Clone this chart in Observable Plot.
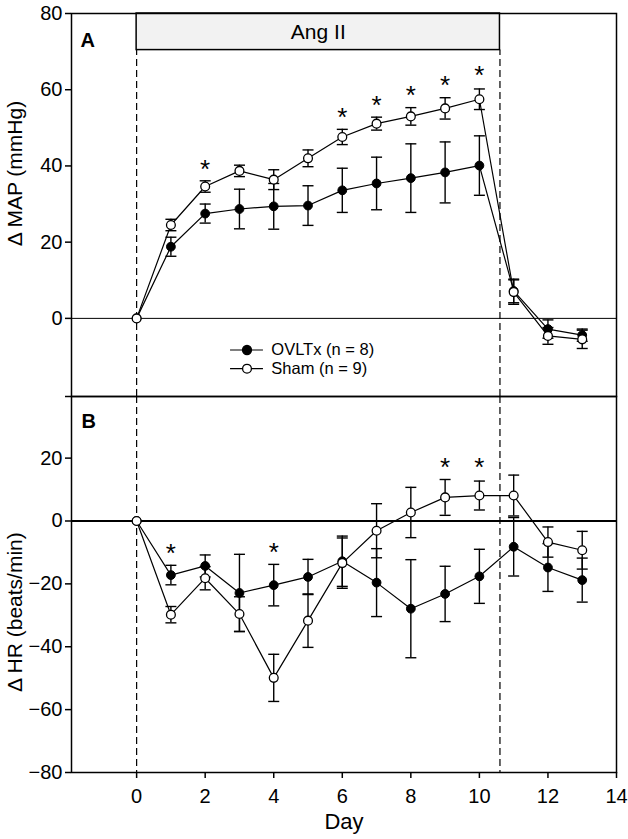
<!DOCTYPE html>
<html><head><meta charset="utf-8">
<script src="https://cdn.jsdelivr.net/npm/d3@7"></script>
<script src="https://cdn.jsdelivr.net/npm/@observablehq/plot@0.6"></script>
<style>
html,body{margin:0;padding:0;background:#fff;}
#chart svg{display:block;overflow:visible;}
</style></head><body><div id="chart"></div>
<script>
// ---- data ----
const days = [0,1,2,3,4,5,6,7,8,9,10,11,12,13];

const mapOVLTx   = [0, 18.8, 27.5, 28.7, 29.4, 29.6, 33.6, 35.4, 36.8, 38.3, 40.1, 7.2, -2.8, -4.4];
const mapOVLTxSE = [0, 2.5, 2.5, 5.2, 6.0, 5.2, 5.8, 6.9, 9.0, 8.0, 7.8, 3.1, 2.4, 1.6];
const mapSham    = [0, 24.5, 34.6, 38.7, 36.4, 42.0, 47.6, 51.1, 53.0, 55.1, 57.5, 6.9, -4.6, -5.5];
const mapShamSE  = [0, 1.5, 1.5, 1.5, 2.6, 2.2, 2.0, 1.7, 2.3, 2.8, 2.7, 3.2, 2.2, 2.4];

const hrOVLTx   = [0, -17.2, -14.3, -22.9, -20.4, -17.8, -12.8, -19.6, -27.9, -23.2, -17.6, -8.2, -14.8, -18.8];
const hrOVLTxSE = [0, 3.1, 3.5, 12.3, 6.6, 5.6, 8.0, 10.8, 15.6, 8.8, 8.6, 9.3, 7.6, 7.0];
const hrSham    = [0, -29.8, -18.2, -29.6, -49.9, -31.7, -13.4, -3.1, 2.7, 7.5, 8.1, 8.1, -6.7, -9.3];
const hrShamSE  = [0, 2.6, 3.7, 5.5, 7.5, 8.5, 8.0, 8.6, 8.0, 5.7, 4.6, 6.5, 4.8, 6.0];

const mapStarDays = [2, 6, 7, 8, 9, 10];
const mapStarY    = [40.9, 54.6, 57.7, 60.4, 62.9, 65.4];
const hrStarDays  = [1, 4, 9, 10];
const hrStarY     = [-8.1, -7.8, 19.1, 19.1];

const mapTicks = [0, 20, 40, 60, 80];
const hrTicks  = [-80, -60, -40, -20, 0, 20];
const dayTicks = [0, 2, 4, 6, 8, 10, 12, 14];

const groups = ["OVLTx (n = 8)", "Sham (n = 9)"];
const angLabel = "Ang II";
const angStart = 0, angEnd = 10.6, angBoxBottom = 70.4;

const xDomain = [-1.9, 14];
const mapDomain = [-20.5, 80];
const hrDomain = [-80, 39.6];

// legend placement (data units of panel A)
const legendLineX = [2.74, 3.7], legendDotX = 3.22, legendTextX = 3.93;
const legendY = [-8.3, -13.2];

// ---- helpers ----
const fontFamily = "'Liberation Sans', Arial, Helvetica, sans-serif";
const cap = {draw(ctx){ ctx.moveTo(-5.5, 0); ctx.lineTo(5.5, 0); }};
const rowsOf = (vals, ses, g) => days.map((d, i) => ({day: d, v: vals[i], se: ses[i], g}));

function dataMarks(ovl, sham, starDays, starY) {
  const errs = [...ovl, ...sham].filter(d => d.se > 0);
  return [
    Plot.ruleX(errs, {x: "day", y1: d => d.v - d.se, y2: d => d.v + d.se, stroke: "black", strokeWidth: 1.4}),
    Plot.dot(errs, {x: "day", y: d => d.v - d.se, symbol: cap, stroke: "black", strokeWidth: 1.4, fill: "none"}),
    Plot.dot(errs, {x: "day", y: d => d.v + d.se, symbol: cap, stroke: "black", strokeWidth: 1.4, fill: "none"}),
    Plot.line(ovl, {x: "day", y: "v", stroke: "black", strokeWidth: 1.2}),
    Plot.line(sham, {x: "day", y: "v", stroke: "black", strokeWidth: 1.2}),
    Plot.dot(ovl, {x: "day", y: "v", r: 4.4, fill: "black", stroke: "black", strokeWidth: 1}),
    Plot.dot(sham, {x: "day", y: "v", r: 4.4, fill: "white", stroke: "black", strokeWidth: 1.3}),
    Plot.text(starDays, {x: d => d, y: (d, i) => starY[i], text: () => "*", fontSize: 26, dy: 7, fill: "black"})
  ];
}

const mapO = rowsOf(mapOVLTx, mapOVLTxSE, groups[0]);
const mapS = rowsOf(mapSham, mapShamSE, groups[1]);
const hrO = rowsOf(hrOVLTx, hrOVLTxSE, groups[0]);
const hrS = rowsOf(hrSham, hrShamSE, groups[1]);

const style = {fontFamily, fontSize: "20px", background: "transparent", overflow: "visible", color: "black"};

const plotA = Plot.plot({
  width: 628, height: 396,
  marginLeft: 71, marginRight: 12, marginTop: 13, marginBottom: 0,
  x: {domain: xDomain, axis: null},
  y: {domain: mapDomain, axis: null},
  style,
  marks: [
    Plot.ruleY([0], {stroke: "black", strokeWidth: 1}),
    Plot.ruleX([angStart, angEnd], {y1: () => mapDomain[0], y2: () => angBoxBottom, stroke: "black", strokeWidth: 1.2, strokeDasharray: "7,4"}),
    Plot.rect([{x1: angStart, x2: angEnd, y1: angBoxBottom, y2: mapDomain[1]}], {x1: "x1", x2: "x2", y1: "y1", y2: "y2", fill: "#f2f2f2", stroke: "black", strokeWidth: 1.5}),
    Plot.text([angLabel], {x: () => (angStart + angEnd) / 2, y: () => (angBoxBottom + mapDomain[1]) / 2, fontSize: 21, fill: "black"}),
    ...dataMarks(mapO, mapS, mapStarDays, mapStarY),
    // legend
    Plot.ruleY(legendY, {x1: () => legendLineX[0], x2: () => legendLineX[1], y: d => d, stroke: "black", strokeWidth: 1.2}),
    Plot.dot([legendY[0]], {x: () => legendDotX, y: d => d, r: 4.4, fill: "black", stroke: "black"}),
    Plot.dot([legendY[1]], {x: () => legendDotX, y: d => d, r: 4.4, fill: "white", stroke: "black", strokeWidth: 1.3}),
    Plot.text(groups, {x: () => legendTextX, y: (d, i) => legendY[i], text: d => d, textAnchor: "start", fontSize: 16.5, fill: "black"}),
    // panel label, axis
    Plot.text(["A"], {frameAnchor: "top-left", dx: 9, dy: 33, lineAnchor: "bottom", textAnchor: "start", fontWeight: "bold", fontSize: 20, fill: "black"}),
    Plot.axisY(mapTicks, {tickSize: 6, tickPadding: 3, fontSize: 20, label: null, stroke: "black", strokeWidth: 1.5, fill: "black"}),
    Plot.axisY([mapDomain[0]], {tickSize: 6, tickFormat: () => "", label: null, stroke: "black", strokeWidth: 1.5}),
    Plot.text(["Δ MAP (mmHg)"], {y: () => 38, frameAnchor: "left", textAnchor: "middle", lineAnchor: "middle", dx: -56, rotate: -90, fontSize: 21, fill: "black"}),
    Plot.frame({stroke: "black", strokeWidth: 1.5})
  ]
});

const plotB = Plot.plot({
  width: 628, height: 443,
  marginLeft: 71, marginRight: 12, marginTop: 0, marginBottom: 67,
  x: {domain: xDomain, axis: null},
  y: {domain: hrDomain, axis: null},
  style,
  marks: [
    Plot.ruleY([0], {stroke: "black", strokeWidth: 2}),
    Plot.ruleX([angStart, angEnd], {stroke: "black", strokeWidth: 1.2, strokeDasharray: "7,4"}),
    ...dataMarks(hrO, hrS, hrStarDays, hrStarY),
    Plot.text(["B"], {frameAnchor: "top-left", dx: 10, dy: 31, lineAnchor: "bottom", textAnchor: "start", fontWeight: "bold", fontSize: 20, fill: "black"}),
    Plot.axisY(hrTicks, {tickSize: 6, tickPadding: 3, fontSize: 20, label: null, stroke: "black", strokeWidth: 1.5, fill: "black"}),
    Plot.axisX(dayTicks, {tickSize: 6, tickPadding: 10, fontSize: 20, label: null, stroke: "black", strokeWidth: 1.5, fill: "black"}),
    Plot.text(["Day"], {frameAnchor: "bottom", dy: 56, lineAnchor: "bottom", fontSize: 22, fill: "black"}),
    Plot.text(["Δ HR (beats/min)"], {y: () => -29, frameAnchor: "left", textAnchor: "middle", lineAnchor: "middle", dx: -56, rotate: -90, fontSize: 21, fill: "black"}),
    Plot.frame({stroke: "black", strokeWidth: 1.5})
  ]
});

const el = document.getElementById("chart");
el.appendChild(plotA);
el.appendChild(plotB);
</script>
</body></html>
